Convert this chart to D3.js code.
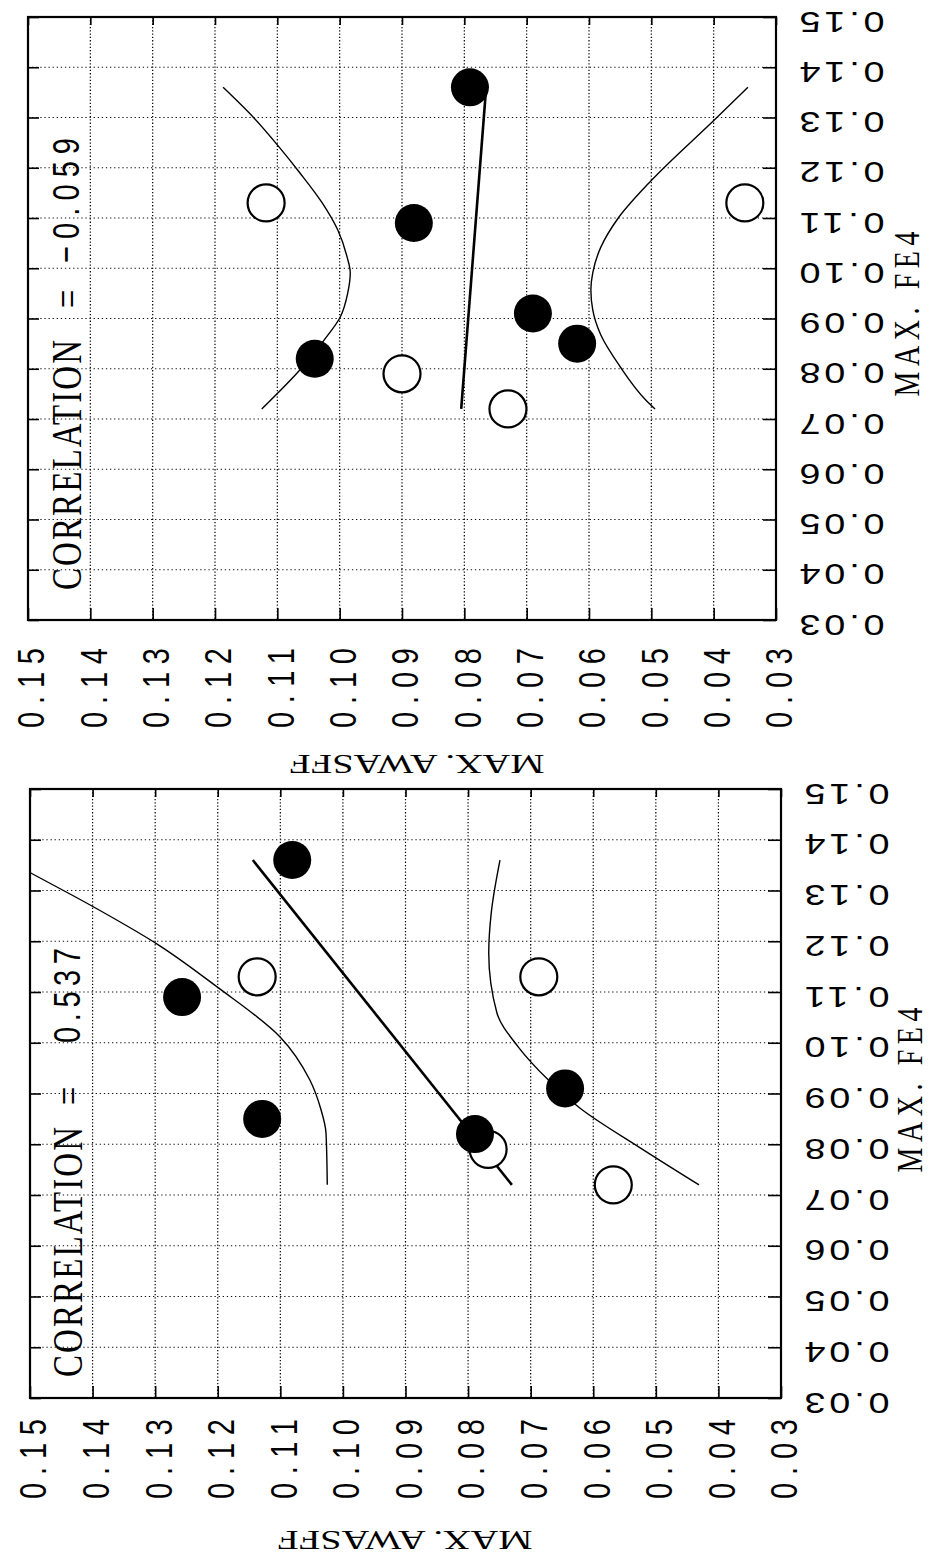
<!DOCTYPE html>
<html>
<head>
<meta charset="utf-8">
<script src="https://cdn.jsdelivr.net/npm/d3@7"></script>
<style>
  html, body { margin: 0; padding: 0; background: #fff; }
  svg { display: block; }
</style>
</head>
<body>
<svg id="chart" width="929" height="1566"></svg>
<script>
// ---- Axis ticks (both axes run 0.03 .. 0.15) ----
const tickValues = [0.03, 0.04, 0.05, 0.06, 0.07, 0.08, 0.09, 0.10, 0.11, 0.12, 0.13, 0.14, 0.15];
const tickLabels = ["0.03", "0.04", "0.05", "0.06", "0.07", "0.08", "0.09", "0.10", "0.11", "0.12", "0.13", "0.14", "0.15"];

// ---- MAX. FE4 values, shared by both panels ----
const fe4Filled = [0.136, 0.109, 0.091, 0.085, 0.082];
const fe4Open   = [0.113, 0.113, 0.079, 0.072];

// ---- MAX. AWASFF values, upper panel ----
const awasffFilledA = [0.0791, 0.0881, 0.0690, 0.0619, 0.1040];
const awasffOpenA   = [0.1118, 0.0350, 0.0900, 0.0730];
// ---- MAX. AWASFF values, lower panel ----
const awasffFilledB = [0.1081, 0.1257, 0.0645, 0.1129, 0.0789];
const awasffOpenB   = [0.1137, 0.0687, 0.0768, 0.0568];

// ---- correlation coefficients ----
const correlations = ["-0.059", "0.537"];

// ---- fitted line end points (FE4 range of the data) ----
const fitFe4     = [0.136, 0.072];
const fitAwasffA = [0.0765, 0.0805];
const fitAwasffB = [0.1144, 0.0730];

// ---- confidence curves, upper panel ----
const bandHiFe4A = [0.136, 0.1301, 0.1241, 0.1190, 0.1130, 0.1076, 0.1022, 0.0991, 0.0951, 0.0903, 0.0857, 0.0803, 0.072];
const bandHiAwA  = [0.1187, 0.1139, 0.1097, 0.1064, 0.1028, 0.1003, 0.0988, 0.0983, 0.0987, 0.0999, 0.1025, 0.1060, 0.1125];
const bandLoFe4A = [0.136, 0.1295, 0.1176, 0.1100, 0.1042, 0.0991, 0.0957, 0.0917, 0.0867, 0.0804, 0.0738, 0.072];
const bandLoAwA  = [0.0345, 0.0399, 0.0499, 0.0553, 0.0581, 0.0594, 0.0597, 0.0594, 0.0581, 0.0550, 0.0509, 0.0494];
// ---- confidence curves, lower panel ----
const bandHiFe4B = [0.136, 0.1334, 0.1266, 0.1193, 0.1110, 0.1011, 0.0927, 0.0868, 0.0822, 0.072];
const bandHiAwB  = [0.1537, 0.1498, 0.1396, 0.1295, 0.1201, 0.1100, 0.1053, 0.1035, 0.1027, 0.1025];
const bandLoFe4B = [0.136, 0.1256, 0.1177, 0.1059, 0.0992, 0.0927, 0.0871, 0.0793, 0.072];
const bandLoAwB  = [0.0749, 0.0763, 0.0767, 0.0754, 0.0720, 0.0672, 0.0621, 0.0525, 0.0431];

// ---------------------------------------------------------------------------
const svg = d3.select("#chart");
const SX = 1.3;               // horizontal stretch applied to lettering
const SANS = "'Liberation Sans', Arial, sans-serif";
const SERIF = "'Liberation Serif', 'Times New Roman', serif";

const panels = [
  { x0: 28, x1: 776, y0: 17, y1: 620,
    botLabelY: 688, rightLabelX: 842,
    fe4Title: [907, 314], awTitle: [417, 764],
    corrX: 66, corrStart: 590, corrEq: 299, corrNum: 263, corrNumLen: 125,
    filled: awasffFilledA, open: awasffOpenA, fit: fitAwasffA,
    hiFe: bandHiFe4A, hiAw: bandHiAwA, loFe: bandLoFe4A, loAw: bandLoAwA,
    corr: correlations[0] },
  { x0: 30, x1: 781, y0: 789, y1: 1398,
    botLabelY: 1459, rightLabelX: 847,
    fe4Title: [910, 1090], awTitle: [405, 1540],
    corrX: 67, corrStart: 1377, corrEq: 1096, corrNum: 1043, corrNumLen: 95,
    filled: awasffFilledB, open: awasffOpenB, fit: fitAwasffB,
    hiFe: bandHiFe4B, hiAw: bandHiAwB, loFe: bandLoFe4B, loAw: bandLoAwB,
    corr: correlations[1] }
];

const fmt = d => tickLabels[tickValues.indexOf(d)];

panels.forEach((p, i) => {
  // AWASFF runs right-to-left across the page, FE4 bottom-to-top
  const x = d3.scaleLinear().domain([0.15, 0.03]).range([p.x0, p.x1]);
  const y = d3.scaleLinear().domain([0.03, 0.15]).range([p.y1, p.y0]);

  const g = svg.append("g");

  g.append("clipPath").attr("id", "plotclip" + i)
    .append("rect")
    .attr("x", x(0.15)).attr("y", y(0.15))
    .attr("width", x(0.03) - x(0.15)).attr("height", y(0.03) - y(0.15));

  // dotted grid
  const inner = tickValues.slice(1, -1);
  g.append("g").selectAll("line").data(inner).join("line")
    .attr("x1", d => x(d)).attr("x2", d => x(d))
    .attr("y1", y(0.15)).attr("y2", y(0.03))
    .attr("stroke", "#000").attr("stroke-width", 1.2)
    .attr("stroke-dasharray", "1.3,2");
  g.append("g").selectAll("line").data(inner).join("line")
    .attr("y1", d => y(d)).attr("y2", d => y(d))
    .attr("x1", x(0.15)).attr("x2", x(0.03))
    .attr("stroke", "#111").attr("stroke-width", 1.1)
    .attr("stroke-dasharray", "1.3,2.8");

  // axes: inward ticks on all four edges
  const styleAxis = sel => {
    sel.attr("font-size", null).attr("font-family", null);
    sel.select(".domain").remove();
    sel.selectAll(".tick line").attr("stroke", "#000").attr("stroke-width", 1.6);
  };

  const axBottom = g.append("g")
    .attr("transform", `translate(0,${y(0.03)})`)
    .call(d3.axisBottom(x).tickValues(tickValues).tickSize(-12).tickFormat(fmt))
    .call(styleAxis);
  axBottom.selectAll(".tick text")
    .attr("x", 0).attr("y", 0).attr("dy", null)
    .attr("transform", `translate(3,${p.botLabelY - y(0.03)}) scale(${SX},1) rotate(-90)`)
    .attr("text-anchor", "middle").attr("dominant-baseline", "central")
    .attr("font-family", SANS).attr("font-size", 29)
    .attr("textLength", 80).attr("lengthAdjust", "spacing")
    .attr("fill", "#000");

  const axRight = g.append("g")
    .attr("transform", `translate(${x(0.03)},0)`)
    .call(d3.axisRight(y).tickValues(tickValues).tickSize(-13).tickFormat(fmt))
    .call(styleAxis);
  axRight.selectAll(".tick text")
    .attr("x", 0).attr("y", 0).attr("dy", null)
    .attr("transform", `translate(${p.rightLabelX - x(0.03)},4) scale(${SX},1) rotate(180)`)
    .attr("text-anchor", "middle").attr("dominant-baseline", "central")
    .attr("font-family", SANS).attr("font-size", 29)
    .attr("textLength", 85 / SX).attr("lengthAdjust", "spacing")
    .attr("fill", "#000");

  g.append("g")
    .attr("transform", `translate(0,${y(0.15)})`)
    .call(d3.axisTop(x).tickValues(tickValues).tickSize(-8).tickFormat(""))
    .call(styleAxis);
  g.append("g")
    .attr("transform", `translate(${x(0.15)},0)`)
    .call(d3.axisLeft(y).tickValues(tickValues).tickSize(-11).tickFormat(""))
    .call(styleAxis);

  // frame
  g.append("rect")
    .attr("x", x(0.15)).attr("y", y(0.15))
    .attr("width", x(0.03) - x(0.15)).attr("height", y(0.03) - y(0.15))
    .attr("fill", "none").attr("stroke", "#000").attr("stroke-width", 2.2);

  // confidence curves
  const curve = d3.line()
    .x(d => x(d[1])).y(d => y(d[0]))
    .curve(d3.curveMonotoneY);
  const plot = g.append("g").attr("clip-path", `url(#plotclip${i})`);
  plot.append("path").datum(d3.zip(p.hiFe, p.hiAw))
    .attr("d", curve).attr("fill", "none").attr("stroke", "#000").attr("stroke-width", 1.4);
  plot.append("path").datum(d3.zip(p.loFe, p.loAw))
    .attr("d", curve).attr("fill", "none").attr("stroke", "#000").attr("stroke-width", 1.4);

  // fitted line
  plot.append("path").datum(d3.zip(fitFe4, p.fit))
    .attr("d", d3.line().x(d => x(d[1])).y(d => y(d[0])))
    .attr("fill", "none").attr("stroke", "#000").attr("stroke-width", 2.6);

  // observations
  plot.append("g").selectAll("circle").data(d3.zip(fe4Open, p.open)).join("circle")
    .attr("cx", d => x(d[1])).attr("cy", d => y(d[0])).attr("r", 18.5)
    .attr("fill", "#fff").attr("stroke", "#000").attr("stroke-width", 2.2);
  plot.append("g").selectAll("circle").data(d3.zip(fe4Filled, p.filled)).join("circle")
    .attr("cx", d => x(d[1])).attr("cy", d => y(d[0])).attr("r", 19)
    .attr("fill", "#000");

  // correlation annotation (reads bottom to top)
  const rot = (px, py) => `translate(${px},${py}) scale(${SX},1) rotate(-90)`;
  g.append("text")
    .attr("transform", rot(p.corrX, p.corrStart))
    .attr("dominant-baseline", "central").attr("text-anchor", "start")
    .attr("font-family", SERIF).attr("font-size", 33)
    .attr("textLength", 250).attr("lengthAdjust", "spacing")
    .text("CORRELATION");
  g.append("text")
    .attr("transform", rot(p.corrX, p.corrEq))
    .attr("dominant-baseline", "central").attr("text-anchor", "middle")
    .attr("font-family", SERIF).attr("font-size", 33)
    .text("=");
  g.append("text")
    .attr("transform", rot(p.corrX, p.corrNum))
    .attr("dominant-baseline", "central").attr("text-anchor", "start")
    .attr("font-family", SANS).attr("font-size", 29)
    .attr("textLength", p.corrNumLen).attr("lengthAdjust", "spacing")
    .text(p.corr.replace("-", "\u2212"));

  // axis titles
  g.append("text")
    .attr("transform", rot(p.fe4Title[0], p.fe4Title[1]))
    .attr("dominant-baseline", "central").attr("text-anchor", "middle")
    .attr("font-family", SERIF).attr("font-size", 28)
    .attr("textLength", 165).attr("lengthAdjust", "spacing")
    .text("MAX. FE4");
  g.append("text")
    .attr("transform", `translate(${p.awTitle[0]},${p.awTitle[1]}) rotate(180)`)
    .attr("dominant-baseline", "central").attr("text-anchor", "middle")
    .attr("font-family", SERIF).attr("font-size", 28)
    .attr("textLength", 255).attr("lengthAdjust", "spacingAndGlyphs")
    .text("MAX. AWASFF");
});
</script>
</body>
</html>
